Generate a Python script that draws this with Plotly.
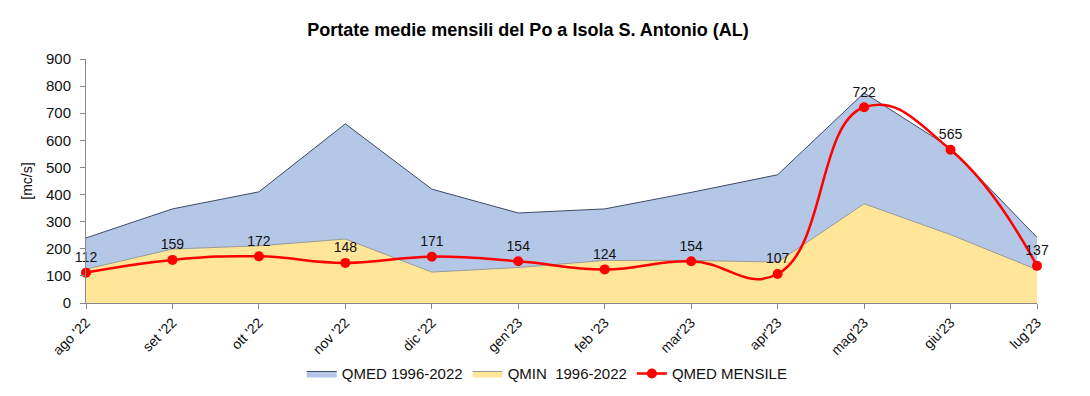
import plotly.graph_objects as go

months = ["ago '22", "set '22", "ott '22", "nov '22", "dic '22", "gen'23",
          "feb '23", "mar'23", "apr'23", "mag'23", "giu'23", "lug'23"]
qmed_hist = [240, 347, 410, 661, 420, 332, 347, 408, 473, 775, 572, 242]
qmin_hist = [125, 199, 211, 236, 114, 131, 157, 157, 151, 366, 252, 123]
qmed_mensile = [112, 159, 172, 148, 171, 154, 124, 154, 107, 722, 565, 137]

fig = go.Figure()
fig.add_trace(go.Scatter(
    x=months, y=qmed_hist, name="QMED 1996-2022", mode="lines",
    fill="tozeroy", fillcolor="#B4C7E7",
    line=dict(color="#3B4A66", width=1)))
fig.add_trace(go.Scatter(
    x=months, y=qmin_hist, name="QMIN  1996-2022", mode="lines",
    fill="tozeroy", fillcolor="#FFE699",
    line=dict(color="#999999", width=1)))
fig.add_trace(go.Scatter(
    x=months, y=qmed_mensile, name="QMED MENSILE", mode="lines+markers+text",
    line=dict(color="#FF0000", width=2.5, shape="spline", smoothing=1.3),
    marker=dict(color="#FF0000", size=10),
    text=[str(v) for v in qmed_mensile], textposition="top center",
    cliponaxis=False,
    textfont=dict(family="Arial", size=14, color="#111111")))

# page body has an 8px default margin, so the figure is sized to fit inside it
fig.update_layout(
    width=1082, height=388,
    margin=dict(l=78, r=53, t=51, b=93, autoexpand=False),
    paper_bgcolor="white", plot_bgcolor="white",
    font=dict(family="Arial", size=14, color="#111111"),
    title=dict(text="<b>Portate medie mensili del Po a Isola S. Antonio (AL)</b>",
               x=0.4806, xanchor="center", y=0.943, yanchor="middle",
               automargin=False,
               font=dict(family="Arial", size=18, color="#000000")),
    showlegend=True,
    legend=dict(orientation="h", x=0.485, xanchor="center", y=-0.29, yanchor="middle",
                font=dict(family="Arial", size=15, color="#111111"),
                traceorder="normal"),
)
fig.update_xaxes(
    showgrid=False, showline=True, linecolor="#888888", linewidth=1,
    ticks="outside", ticklen=5, tickcolor="#888888", automargin=False,
    tickangle=-45, range=[0, 11], tickfont=dict(size=14))
fig.update_yaxes(
    showgrid=False, showline=True, linecolor="#888888", linewidth=1,
    ticks="outside", ticklen=5, tickcolor="#888888", automargin=False,
    ticklabelstandoff=6,
    range=[0, 900], dtick=100, zeroline=False,
    title=dict(text="[mc/s]", font=dict(size=14), standoff=10),
    tickfont=dict(size=15))

fig.write_html("out.html")
